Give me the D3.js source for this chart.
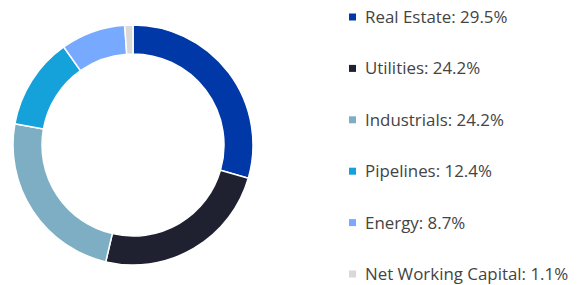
<!DOCTYPE html>
<html>
<head>
<meta charset="utf-8">
<script src="https://cdn.jsdelivr.net/npm/d3@7"></script>
<style>
  html, body { margin: 0; padding: 0; background: #fff; }
</style>
</head>
<body>
<div id="chart"></div>
<script>
// sector weights
const sectors = ["Real Estate", "Utilities", "Industrials", "Pipelines", "Energy", "Net Working Capital"];
const weights = [29.5, 24.2, 24.2, 12.4, 8.7, 1.1];
const colours = ["#0038a8", "#1f2130", "#7eaec4", "#15a2da", "#77aaff", "#d9d9d9"];

const w = 579, h = 285;
const cx = 133, cy = 145;
const outerR = 120, innerR = 91;

const svg = d3.select("#chart").append("svg").attr("width", w).attr("height", h);

const data = sectors.map((s, i) => ({ name: s, value: weights[i], colour: colours[i] }));

const pie = d3.pie().value(d => d.value).sort(null);
const arc = d3.arc().innerRadius(innerR).outerRadius(outerR);

// donut
svg.append("g")
    .attr("transform", "translate(" + cx + "," + cy + ")")
    .selectAll("path")
    .data(pie(data))
    .enter()
    .append("path")
    .attr("d", arc)
    .attr("fill", d => d.data.colour)
    .attr("stroke", "#fff")
    .attr("stroke-width", 1.5);

// legend
const legendY = d3.scalePoint().domain(sectors).range([17, 274]);

const legend = svg.append("g")
    .selectAll("g")
    .data(data)
    .enter()
    .append("g")
    .attr("transform", d => "translate(349," + legendY(d.name) + ")");

legend.append("rect")
    .attr("x", 0).attr("y", -3.5)
    .attr("width", 7).attr("height", 7)
    .attr("fill", d => d.colour);

legend.append("text")
    .attr("x", 16).attr("y", 0)
    .attr("dy", "0.35em")
    .text(d => d.name + ": " + d.value.toFixed(1) + "%")
    .style("font-family", "'Open Sans', sans-serif")
    .style("font-size", "16.9px")
    .style("fill", "#444");
</script>
</body>
</html>
